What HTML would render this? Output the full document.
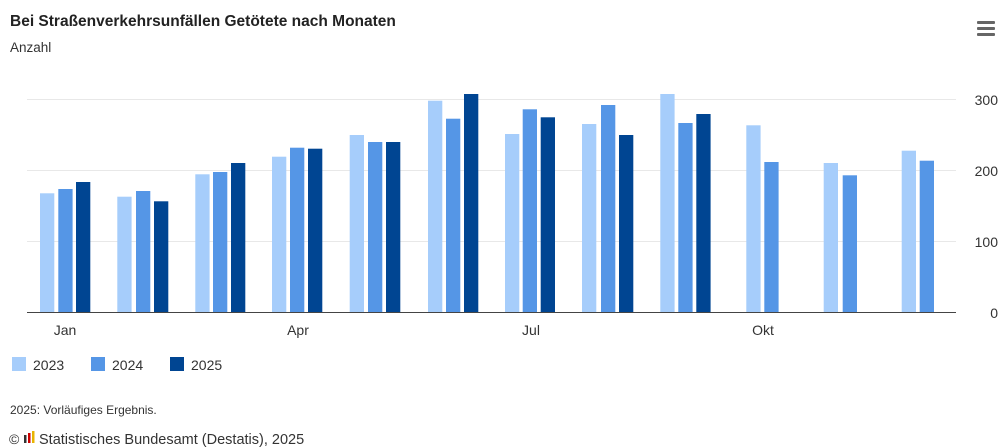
<!DOCTYPE html><html><head><meta charset="utf-8"><style>body{margin:0;background:#fff}svg{display:block;font-family:"Liberation Sans",sans-serif}</style></head><body>
<svg width="1000" height="448" viewBox="0 0 1000 448">
<text x="10" y="26" font-size="15.5" font-weight="bold" fill="#222">Bei Straßenverkehrsunfällen Getötete nach Monaten</text>
<text x="10" y="52" font-size="13.5" fill="#333">Anzahl</text>
<g fill="#666"><rect x="977" y="21" width="18" height="3" rx="1"/><rect x="977" y="27" width="18" height="3" rx="1"/><rect x="977" y="33" width="18" height="3" rx="1"/></g>
<g stroke="#e8e8e8" stroke-width="1"><line x1="27" y1="99.5" x2="956" y2="99.5"/><line x1="27" y1="170.5" x2="956" y2="170.5"/><line x1="27" y1="241.5" x2="956" y2="241.5"/></g>
<g font-size="14" fill="#333" text-anchor="end"><text x="998" y="105">300</text><text x="998" y="176">200</text><text x="998" y="247">100</text><text x="998" y="318">0</text></g>
<g fill="#a6cdfb">
<rect x="40" y="193.3" width="14.3" height="118.7"/><rect x="117.3" y="196.7" width="14.3" height="115.3"/><rect x="195.3" y="174.3" width="14.3" height="137.7"/><rect x="272" y="156.7" width="14.3" height="155.3"/><rect x="349.7" y="135" width="14.3" height="177"/><rect x="428" y="100.7" width="14.3" height="211.3"/><rect x="505" y="134" width="14.3" height="178"/><rect x="582" y="124" width="14.3" height="188"/><rect x="660.3" y="94" width="14.3" height="218"/><rect x="746.3" y="125.3" width="14.3" height="186.7"/><rect x="823.7" y="163" width="14.3" height="149"/><rect x="901.7" y="150.7" width="14.3" height="161.3"/></g>
<g fill="#5596e6">
<rect x="58.3" y="189" width="14.3" height="123"/><rect x="136" y="191" width="14.3" height="121"/><rect x="213" y="172" width="14.3" height="140"/><rect x="290" y="147.7" width="14.3" height="164.3"/><rect x="368" y="142" width="14.3" height="170"/><rect x="446" y="118.7" width="14.3" height="193.3"/><rect x="522.7" y="109.3" width="14.3" height="202.7"/><rect x="601" y="105" width="14.3" height="207"/><rect x="678.3" y="123" width="14.3" height="189"/><rect x="764.3" y="162" width="14.3" height="150"/><rect x="842.7" y="175.3" width="14.3" height="136.7"/><rect x="919.7" y="160.7" width="14.3" height="151.3"/></g>
<g fill="#004592">
<rect x="76" y="182" width="14.3" height="130"/><rect x="154" y="201.3" width="14.3" height="110.7"/><rect x="231" y="163" width="14.3" height="149"/><rect x="308" y="148.7" width="14.3" height="163.3"/><rect x="386" y="142" width="14.3" height="170"/><rect x="464" y="94" width="14.3" height="218"/><rect x="540.7" y="117.3" width="14.3" height="194.7"/><rect x="619" y="135" width="14.3" height="177"/><rect x="696.3" y="114" width="14.3" height="198"/></g>
<line x1="27" y1="312.5" x2="956" y2="312.5" stroke="#444" stroke-width="1"/>
<g font-size="14" fill="#333" text-anchor="middle"><text x="65" y="335">Jan</text><text x="298" y="335">Apr</text><text x="531" y="335">Jul</text><text x="763" y="335">Okt</text></g>
<rect x="12" y="357" width="14" height="14" fill="#a6cdfb"/><text x="33" y="370" font-size="14" fill="#333">2023</text>
<rect x="91" y="357" width="14" height="14" fill="#5596e6"/><text x="112" y="370" font-size="14" fill="#333">2024</text>
<rect x="170" y="357" width="14" height="14" fill="#004592"/><text x="191" y="370" font-size="14" fill="#333">2025</text>
<text x="10" y="414" font-size="12" fill="#333">2025: Vorläufiges Ergebnis.</text>
<text x="9" y="444" font-size="14" fill="#333">©</text>
<rect x="24" y="435" width="2.5" height="8" fill="#333"/><rect x="28" y="433" width="2.5" height="10" fill="#c00"/><rect x="32" y="431" width="2.5" height="12" fill="#e8b400"/>
<text x="39" y="444" font-size="14.5" fill="#333">Statistisches Bundesamt (Destatis), 2025</text>
</svg></body></html>
